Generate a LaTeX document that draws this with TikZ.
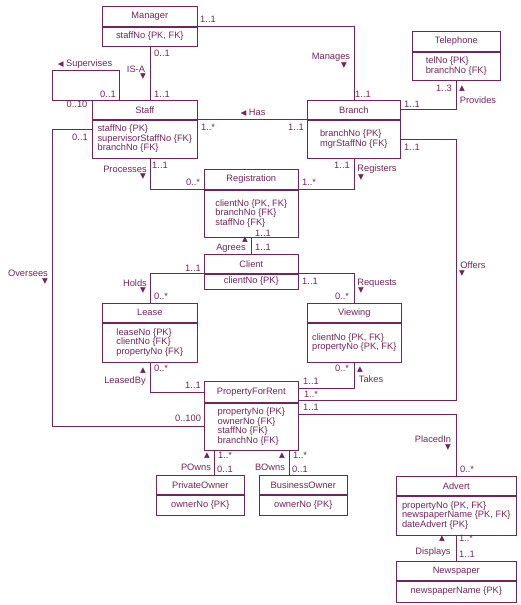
\documentclass[tikz,border=0pt]{standalone}
\usepackage{fontspec}
\setmainfont{Liberation Sans}
\newfontfamily\symfont{DejaVu Sans}
\usetikzlibrary{positioning}
\definecolor{umlline}{RGB}{115,36,90}
\tikzset{>=latex}
\tikzstyle{classhead} = [draw=umlline, line width=0.6pt, inner sep=1pt, anchor=north west, text=umlline]
\tikzstyle{classbody} = [draw=umlline, line width=0.6pt, inner sep=1pt, align=left, text=umlline]
\tikzstyle{mult} = [inner sep=0pt, text=umlline]
\tikzstyle{rel} = [inner sep=0pt, text=umlline]
\tikzstyle{assoc} = [draw=umlline, line width=0.6pt]
\newcommand{\triup}{{\fontsize{7.5}{7.5}\symfont ▲}}
\newcommand{\tridn}{{\fontsize{7.5}{7.5}\symfont ▼}}
\newcommand{\trilt}{{\fontsize{7.5}{7.5}\symfont ◀}}

\begin{document}
\begin{tikzpicture}[x=1pt, y=-1pt, font=\fontsize{9.3}{9.5}\selectfont]
\useasboundingbox (0,0) rectangle (521,605);

% classes
\node [classhead, minimum width=95pt, minimum height=20pt] (ManagerHead) at (102,6) {Manager};
\node [classbody, minimum width=95pt, minimum height=19pt, below=0pt of ManagerHead] (ManagerAttr) {staffNo \{PK, FK\}};

\node [classhead, minimum width=105pt, minimum height=19pt] (StaffHead) at (92,100) {Staff};
\node [classbody, minimum width=105pt, minimum height=38pt, below=0pt of StaffHead] (StaffAttr) {staffNo \{PK\}\\supervisorStaffNo \{FK\}\\branchNo \{FK\}};

\node [classhead, minimum width=93pt, minimum height=19pt] (BranchHead) at (307,100) {Branch};
\node [classbody, minimum width=93pt, minimum height=38pt, below=0pt of BranchHead] (BranchAttr) {branchNo \{PK\}\\mgrStaffNo \{FK\}};

\node [classhead, minimum width=88pt, minimum height=20pt] (TelHead) at (412,31) {Telephone};
\node [classbody, minimum width=88pt, minimum height=28pt, below=0pt of TelHead] (TelAttr) {telNo \{PK\}\\branchNo \{FK\}};

\node [classhead, minimum width=94pt, minimum height=20pt] (RegHead) at (204,169) {Registration};
\node [classbody, minimum width=94pt, minimum height=47pt, below=0pt of RegHead] (RegAttr) {clientNo \{PK, FK\}\\branchNo \{FK\}\\staffNo \{FK\}};

\node [classhead, minimum width=94pt, minimum height=19pt] (ClientHead) at (204,254) {Client};
\node [classbody, minimum width=94pt, minimum height=15pt, below=0pt of ClientHead] (ClientAttr) {clientNo \{PK\}};

\node [classhead, minimum width=95pt, minimum height=19pt] (LeaseHead) at (102,303) {Lease};
\node [classbody, minimum width=95pt, minimum height=39pt, below=0pt of LeaseHead] (LeaseAttr) {leaseNo \{PK\}\\clientNo \{FK\}\\propertyNo \{FK\}};

\node [classhead, minimum width=94pt, minimum height=19pt] (ViewingHead) at (307,303) {Viewing};
\node [classbody, minimum width=94pt, minimum height=39pt, below=0pt of ViewingHead] (ViewingAttr) {clientNo \{PK, FK\}\\propertyNo \{PK, FK\}};

\node [classhead, minimum width=94pt, minimum height=21pt] (PFRHead) at (204,381) {PropertyForRent};
\node [classbody, minimum width=94pt, minimum height=47pt, below=0pt of PFRHead] (PFRAttr) {propertyNo \{PK\}\\ownerNo \{FK\}\\staffNo \{FK\}\\branchNo \{FK\}};

\node [classhead, minimum width=88pt, minimum height=19pt] (PrivHead) at (156,475) {PrivateOwner};
\node [classbody, minimum width=88pt, minimum height=20pt, below=0pt of PrivHead] (PrivAttr) {ownerNo \{PK\}};

\node [classhead, minimum width=88pt, minimum height=19pt] (BusHead) at (259,475) {BusinessOwner};
\node [classbody, minimum width=88pt, minimum height=20pt, below=0pt of BusHead] (BusAttr) {ownerNo \{PK\}};

\node [classhead, minimum width=120pt, minimum height=19pt] (AdvertHead) at (396,476) {Advert};
\node [classbody, minimum width=120pt, minimum height=39pt, below=0pt of AdvertHead] (AdvertAttr) {propertyNo \{PK, FK\}\\newspaperName \{PK, FK\}\\dateAdvert \{PK\}};

\node [classhead, minimum width=120pt, minimum height=19pt] (NewsHead) at (396,561) {Newspaper};
\node [classbody, minimum width=120pt, minimum height=21pt, below=0pt of NewsHead] (NewsAttr) {newspaperName \{PK\}};

% associations
\coordinate (supEnd) at ([xshift=27pt]StaffHead.north west);
\coordinate (pownTop) at ([xshift=10pt]PFRAttr.south west);
\coordinate (bownTop) at ([xshift=-9pt]PFRAttr.south east);
\draw [assoc] (ManagerHead.south east) -| (BranchHead.north);
\draw [assoc] (ManagerAttr.south) -- (ManagerAttr.south |- StaffHead.north);
\draw [assoc] (StaffHead.north west) -- ++(-40,0) |- ([yshift=30pt]supEnd) -- (supEnd);
\draw [assoc] (StaffHead.south east) -- (BranchHead.south west);
\draw [assoc] (TelAttr.south) |- ([yshift=1pt]BranchHead.east);
\draw [assoc] (BranchAttr.east) -- (BranchAttr.east -| AdvertHead.north) |- ([yshift=2pt]PFRAttr.north east);
\draw [assoc] (BranchAttr.south) |- (RegHead.south east);
\draw [assoc] (StaffAttr.south -| LeaseHead.north) |- (RegHead.south west);
\draw [assoc] (RegAttr.south) -- (ClientHead.north);
\draw [assoc] (ClientHead.south west) -| (LeaseHead.north);
\draw [assoc] (ClientHead.south east) -| (ViewingHead.north);
\draw [assoc] (LeaseAttr.south) |- (PFRHead.west);
\draw [assoc] (ViewingAttr.south) |- ([yshift=4pt]PFRHead.east);
\draw [assoc] ([yshift=-10pt]StaffAttr.north west) -- ++(-40,0) |- (PFRAttr.west);
\draw [assoc] ([yshift=-12pt]PFRAttr.north east) -| (AdvertHead.north);
\draw [assoc] (pownTop) -- (pownTop |- PrivHead.north);
\draw [assoc] (bownTop) -- (bownTop |- BusHead.north);
\draw [assoc] (AdvertAttr.south) -- (NewsHead.north);

% labels
\node [mult] (mManagesA) at (208,19) {1..1};
\node [rel] (rManages) at (331,57) {Manages};
\node [rel] (tManages) at (344,66) {\tridn};
\node [mult] (mManagesB) at (363,94) {1..1};
\node [mult] (mIsaA) at (162,53) {0..1};
\node [rel] (rIsa) at (136,69) {IS-A};
\node [rel] (tIsa) at (143,77) {\tridn};
\node [mult] (mIsaB) at (162,94) {1..1};
\node [rel] (rSupervises) at (85,64) {\trilt\ Supervises};
\node [mult] (mSupA) at (108,94) {0..1};
\node [mult] (mSupB) at (77,104) {0..10};
\node [rel] (rHas) at (253,113) {\trilt\ Has};
\node [mult] (mHasA) at (208,127) {1..*};
\node [mult] (mHasB) at (296,127) {1..1};
\node [mult] (mProvA) at (444,88) {1..3};
\node [rel] (tProv) at (462,89) {\triup};
\node [rel] (rProv) at (478,100) {Provides};
\node [mult] (mProvB) at (412,104) {1..1};
\node [mult] (mOffA) at (412,147) {1..1};
\node [rel] (rOff) at (473,265) {Offers};
\node [rel] (tOff) at (462,274) {\tridn};
\node [mult] (mOffB) at (311,394) {1..*};
\node [mult] (mRegA) at (342,165) {1..1};
\node [rel] (rReg) at (377,169) {Registers};
\node [rel] (tReg) at (361,178) {\tridn};
\node [mult] (mRegB) at (309,182) {1..*};
\node [rel] (rProc) at (125,169) {Processes};
\node [rel] (tProc) at (143,177) {\tridn};
\node [mult] (mProcA) at (160,165) {1..1};
\node [mult] (mProcB) at (193,182) {0..*};
\node [rel] (tAgr) at (245,240) {\triup};
\node [rel] (rAgr) at (231,248) {Agrees};
\node [mult] (mAgrA) at (263,233) {1..1};
\node [mult] (mAgrB) at (263,247) {1..1};
\node [rel] (rHolds) at (135,283) {Holds};
\node [rel] (tHolds) at (143,291) {\tridn};
\node [mult] (mHoldsA) at (193,268) {1..1};
\node [mult] (mHoldsB) at (161,296) {0..*};
\node [mult] (mReqA) at (310,281) {1..1};
\node [rel] (rReq) at (377,283) {Requests};
\node [rel] (tReq) at (361,291) {\tridn};
\node [mult] (mReqB) at (342,296) {0..*};
\node [mult] (mOverA) at (80,137) {0..1};
\node [rel] (rOver) at (28,273) {Oversees};
\node [rel] (tOver) at (45,282) {\tridn};
\node [mult] (mOverB) at (188,418) {0..100};
\node [mult] (mLeasA) at (161,368) {0..*};
\node [rel] (tLeas) at (143,371) {\triup};
\node [rel] (rLeas) at (125,381) {LeasedBy};
\node [mult] (mLeasB) at (193,385) {1..1};
\node [mult] (mTakA) at (342,368) {0..*};
\node [rel] (tTak) at (360,370) {\triup};
\node [rel] (rTak) at (371,379) {Takes};
\node [mult] (mTakB) at (311,381) {1..1};
\node [rel] (rPlaced) at (433,439) {PlacedIn};
\node [rel] (tPlaced) at (448,448) {\tridn};
\node [mult] (mPlacedA) at (311,407) {1..1};
\node [mult] (mPlacedB) at (467,469) {0..*};
\node [rel] (tPown) at (207,456) {\triup};
\node [rel] (rPown) at (196,467) {POwns};
\node [mult] (mPownA) at (225,455) {1..*};
\node [mult] (mPownB) at (225,469) {0..1};
\node [rel] (tBown) at (282,456) {\triup};
\node [rel] (rBown) at (270,467) {BOwns};
\node [mult] (mBownA) at (300,455) {1..*};
\node [mult] (mBownB) at (300,469) {0..1};
\node [rel] (tDisp) at (442,539) {\triup};
\node [rel] (rDisp) at (433,552) {Displays};
\node [mult] (mDispA) at (466,538) {1..*};
\node [mult] (mDispB) at (467,554) {1..1};
\end{tikzpicture}
\end{document}
